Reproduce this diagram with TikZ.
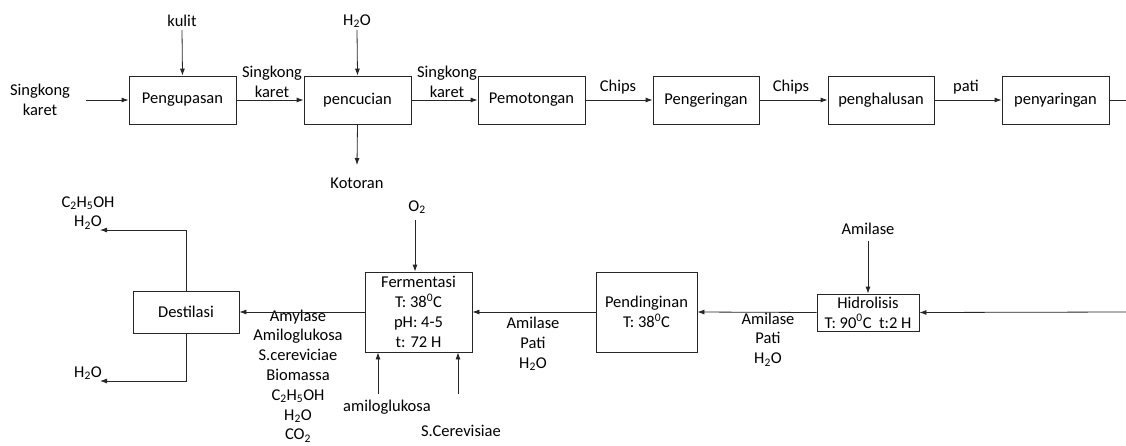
\documentclass[tikz,border=0pt]{standalone}
\usepackage{fontspec}
\setmainfont{Carlito}
\usetikzlibrary{arrows.meta}
\tikzset{
  box/.style={draw=black!85, line width=0.8pt, inner sep=0pt, align=center},
  lbl/.style={inner sep=0pt, align=center},
  arr/.style={draw=black!85, line width=0.8pt, -{Latex[length=7pt,width=5pt]}},
  ln/.style={draw=black!85, line width=0.8pt},
}
\newcommand{\sub}[1]{\textsubscript{#1}}
\begin{document}
\begin{tikzpicture}[x=1pt,y=-1pt, font=\fontsize{16.5}{19.8}\selectfont]
\useasboundingbox (0,0) rectangle (1126,445);
% ---- top row ----
\node[box, minimum width=107, minimum height=48] (peng) at (182.5,100) {Pengupasan};
\node[box, minimum width=107, minimum height=48] (cuci) at (357.5,100) {pencucian};
\node[box, minimum width=107, minimum height=48] (poto) at (531.5,100) {Pemotongan};
\node[box, minimum width=106, minimum height=48] (keri) at (706,100) {Pengeringan};
\node[box, minimum width=106, minimum height=48] (halu) at (881,100) {penghalusan};
\node[box, minimum width=107, minimum height=48] (sari) at (1055.5,100) {penyaringan};

\node[lbl] (sk0) at (40,100) {Singkong\\karet};
\coordinate (sk0e) at (86,100);
\node[lbl] (kulit) at (182,21) {kulit};
\coordinate (kulite) at (182,30);
\node[lbl] (h2o1) at (357,21) {H\sub{2}O};
\coordinate (h2o1e) at (357,30);
\node[lbl] (kot) at (357,183) {Kotoran};
\coordinate (kote) at (357,165);
\node[lbl] (sk1) at (272,82) {Singkong\\karet};
\node[lbl] (sk2) at (447,82) {Singkong\\karet};
\node[lbl] (ch1) at (618,87) {Chips};
\node[lbl] (ch2) at (791,87) {Chips};
\node[lbl] (pati) at (966,87) {pati};
\coordinate (topr) at (1126,100);

\draw[arr] (sk0e) -- (peng.west);
\draw[arr] (kulite) -- (peng.north);
\draw[arr] (peng.east) -- (cuci.west);
\draw[arr] (h2o1e) -- (cuci.north);
\draw[arr] (cuci.south) -- (kote);
\draw[arr] (cuci.east) -- (poto.west);
\draw[arr] (poto.east) -- (keri.west);
\draw[arr] (keri.east) -- (halu.west);
\draw[arr] (halu.east) -- (sari.west);
\draw[ln] (sari.east) -- (topr);

% ---- bottom row ----
\node[box, minimum width=102, minimum height=37] (hidr) at (868,312.5) {Hidrolisis\\T: 90\textsuperscript{0}C\ \ t:2 H};
\node[box, minimum width=101, minimum height=80] (ding) at (646.5,312) {Pendinginan\\T: 38\textsuperscript{0}C};
\node[box, minimum width=107, minimum height=80] (ferm) at (418.5,312) {Fermentasi\\T: 38\textsuperscript{0}C\\pH: 4-5\\t: 72 H};
\node[box, minimum width=106, minimum height=42] (dest) at (186,312) {Destilasi};

\coordinate (botr) at (1126,312);
\node[lbl] (amil) at (868,229) {Amilase};
\coordinate (amile) at (868,241);
\node[lbl] (l1) at (768,339.5) {Amilase\\Pati\\H\sub{2}O};
\node[lbl] (l2) at (533,344) {Amilase\\Pati\\H\sub{2}O};
\node[lbl] (o2) at (417,207) {O\sub{2}};
\coordinate (o2e) at (415,220);
\node[lbl] (amg) at (387,407) {amiloglukosa};
\coordinate (amge) at (378,394);
\node[lbl] (scer) at (461,431) {S.Cerevisiae};
\coordinate (scere) at (458,394);
\node[lbl] (l3) at (298,376) {Amylase\\Amiloglukosa\\S.cereviciae\\Biomassa\\C\sub{2}H\sub{5}OH\\H\sub{2}O\\CO\sub{2}};
\node[lbl] (out1) at (88,213) {C\sub{2}H\sub{5}OH\\H\sub{2}O};
\coordinate (out1e) at (100,230);
\node[lbl] (out2) at (88,373) {H\sub{2}O};
\coordinate (out2e) at (100,381);

\draw[arr] (botr) -- (hidr.east);
\draw[arr] (amile) -- (hidr.north);
\draw[arr] (hidr.west) -- (ding.east);
\draw[arr] (ding.west) -- (ferm.east);
\draw[arr] (o2e) -- (o2e |- ferm.north);
\draw[arr] (amge) -- (amge |- ferm.south);
\draw[arr] (scere) -- (scere |- ferm.south);
\draw[arr] (ferm.west) -- (dest.east);
\draw[arr] (dest.north) |- (out1e);
\draw[arr] (dest.south) |- (out2e);
\end{tikzpicture}
\end{document}
